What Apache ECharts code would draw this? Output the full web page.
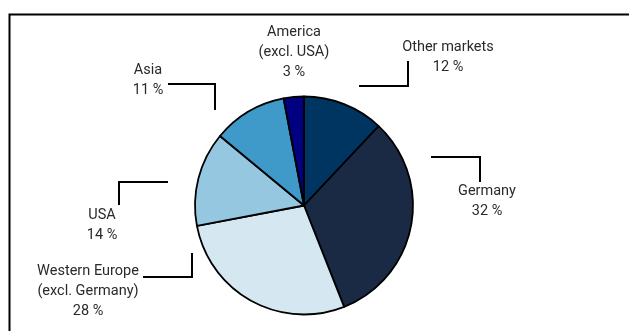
<!DOCTYPE html>
<html>
<head>
<meta charset="utf-8">
<script src="https://cdn.jsdelivr.net/npm/echarts@6/dist/echarts.min.js"></script>
<style>
  html, body { margin: 0; padding: 0; background: #fff; }
  #chart { width: 629px; height: 331px; }
</style>
</head>
<body>
<div id="chart"></div>
<script>
// market shares, clockwise from 12 o'clock
const markets = ['Other markets', 'Germany', 'Western Europe\n(excl. Germany)', 'USA', 'Asia', 'America\n(excl. USA)'];
const shares = [12, 32, 28, 14, 11, 3];
const colors = ['#003561', '#1a2a44', '#d5e8f2', '#95c7e1', '#409ac9', '#000080'];

// where each label sits and how its leader line runs
const labelPos = [
    { x: 448, y: 57, line: [[359, 86], [408, 86], [408, 61]] },
    { x: 487, y: 201, line: [[431, 157], [480, 157], [480, 182]] },
    { x: 88, y: 291, line: [[192, 253], [192, 277], [143, 277]] },
    { x: 102, y: 225, line: [[168, 182], [119, 182], [119, 205]] },
    { x: 148, y: 80, line: [[215, 110], [215, 84], [168, 84]] },
    { x: 294, y: 52, line: null },
];

const chart = echarts.init(document.getElementById('chart'));

const option = {
    animation: false,
    graphic: [
        {
            type: 'polyline',
            shape: { points: [[9.5, 331], [9.5, 14.5], [629, 14.5]] },
            style: { stroke: '#000', lineWidth: 2, fill: null },
        },
    ],
    series: [
        {
            type: 'pie',
            center: [304, 205.5],
            radius: 109,
            startAngle: 90,
            clockwise: true,
            data: markets.map((name, i) => ({
                name,
                value: shares[i],
                itemStyle: { color: colors[i] },
                labelLine: { show: !!labelPos[i].line },
            })),
            itemStyle: {
                borderColor: '#000',
                borderWidth: 1.8,
            },
            label: {
                show: true,
                formatter: '{b}\n{c} %',
                color: '#2a2a2a',
                fontFamily: 'Roboto',
                fontSize: 14.5,
                lineHeight: 20,
                align: 'center',
            },
            labelLine: {
                show: true,
                lineStyle: { color: '#000', width: 2 },
            },
            labelLayout: (params) => {
                const p = labelPos[params.dataIndex];
                const out = { x: p.x, y: p.y, align: 'center', verticalAlign: 'middle' };
                if (p.line) out.labelLinePoints = p.line;
                return out;
            },
            emphasis: { disabled: true },
        },
    ],
};

chart.setOption(option);
</script>
</body>
</html>
